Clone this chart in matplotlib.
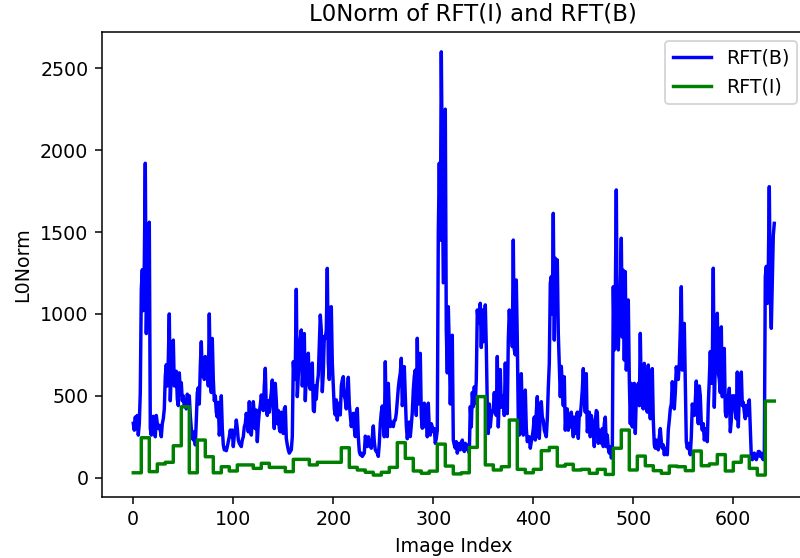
import numpy as np
import matplotlib
matplotlib.use("Agg")
import matplotlib.pyplot as plt

# L0 norm of RFT(B) per image
rft_b = [
    332, 290, 370, 300, 380, 260, 330, 520, 1150, 1270, 1020, 1300, 1920, 880, 1200, 1050,      # 0
    1560, 300, 260, 350, 375, 300, 250, 380, 330, 300, 320, 290, 250, 330, 360, 420,            # 16
    620, 690, 560, 720, 1000, 470, 640, 580, 840, 560, 620, 650, 480, 440, 640, 530,            # 32
    580, 470, 500, 440, 470, 420, 510, 470, 500, 380, 300, 250, 230, 280, 200, 350,             # 48
    520, 550, 450, 680, 830, 620, 680, 600, 740, 650, 700, 560, 1000, 620, 520, 850,            # 64
    600, 470, 500, 400, 370, 460, 260, 330, 500, 300, 200, 170, 180, 165, 190, 220,             # 80
    250, 291, 250, 291, 190, 260, 280, 352, 300, 230, 210, 200, 190, 230, 250, 310,             # 96
    330, 393, 330, 280, 464, 300, 260, 340, 464, 380, 300, 413, 220, 330, 400, 444,             # 112
    505, 460, 410, 560, 668, 420, 380, 470, 400, 470, 520, 596, 420, 300, 576, 470,             # 128
    330, 410, 300, 280, 400, 350, 270, 420, 434, 240, 200, 170, 150, 160, 170, 250,             # 144
    708, 600, 680, 1150, 495, 620, 740, 850, 902, 560, 700, 880, 470, 640, 700, 760,            # 160
    560, 540, 640, 700, 413, 403, 560, 480, 580, 625, 800, 993, 900, 525, 640, 863,             # 176
    850, 900, 1278, 700, 600, 1040, 1044, 700, 556, 420, 383, 475, 352, 455, 420, 383,          # 192
    560, 597, 617, 500, 475, 420, 520, 613, 450, 380, 312, 360, 393, 300, 251, 400,             # 208
    423, 251, 160, 140, 150, 130, 140, 150, 254, 230, 190, 250, 210, 190, 180, 250,             # 224
    316, 220, 170, 160, 150, 130, 210, 330, 400, 438, 330, 250, 708, 300, 251, 576,             # 240
    420, 312, 340, 320, 312, 350, 352, 393, 470, 546, 600, 640, 729, 440, 500, 678,             # 256
    500, 320, 238, 300, 340, 251, 320, 400, 535, 620, 657, 380, 851, 450, 560, 759,             # 272
    373, 302, 434, 455, 310, 434, 250, 455, 300, 260, 330, 310, 281, 300, 210, 240,             # 288
    290, 1500, 1920, 1450, 2600, 1900, 1190, 1700, 2250, 900, 640, 1044, 800, 450, 700, 870,    # 304
    230, 200, 180, 220, 150, 190, 210, 170, 200, 230, 180, 160, 210, 190, 170, 200,             # 320
    150, 434, 310, 520, 434, 555, 453, 600, 1024, 945, 1014, 1065, 795, 1024, 830, 900,         # 336
    1055, 800, 434, 270, 450, 310, 380, 400, 420, 520, 400, 380, 740, 310, 500, 660,            # 352
    430, 480, 500, 380, 700, 420, 391, 840, 1024, 900, 983, 800, 1451, 780, 750, 1207,          # 368
    840, 352, 260, 300, 635, 370, 260, 400, 535, 300, 220, 240, 250, 180, 220, 250,             # 384
    300, 370, 230, 400, 495, 290, 240, 380, 464, 370, 350, 290, 270, 250, 360, 550,             # 400
    698, 1187, 1228, 1000, 1614, 840, 1340, 1187, 1330, 880, 678, 495, 680, 560, 440, 616,      # 416
    290, 400, 420, 290, 340, 310, 400, 330, 250, 370, 270, 350, 400, 240, 400, 380,             # 432
    450, 535, 666, 500, 400, 635, 280, 330, 400, 250, 380, 330, 300, 190, 350, 410,             # 448
    400, 210, 290, 260, 210, 300, 190, 330, 370, 190, 260, 180, 150, 190, 120, 140,             # 464
    1166, 780, 1100, 1757, 858, 780, 1000, 1145, 1462, 858, 1267, 718, 1258, 657, 800, 1085,    # 480
    600, 330, 576, 310, 450, 576, 270, 495, 520, 576, 440, 881, 500, 440, 420, 698,             # 496
    470, 430, 400, 688, 500, 360, 576, 666, 350, 200, 180, 230, 190, 170, 250, 300,             # 512
    220, 180, 200, 140, 180, 150, 140, 290, 350, 420, 450, 586, 480, 420, 520, 677,             # 528
    620, 600, 697, 900, 1166, 657, 800, 942, 600, 220, 180, 210, 170, 140, 250, 450,            # 544
    400, 380, 470, 590, 400, 330, 560, 500, 330, 290, 330, 230, 260, 300, 220, 450,             # 560
    600, 770, 576, 700, 1279, 430, 700, 900, 1004, 640, 600, 520, 921, 494, 576, 789,           # 576
    400, 372, 500, 440, 546, 280, 350, 500, 475, 500, 400, 360, 645, 310, 500, 560,             # 592
    645, 440, 460, 400, 360, 440, 380, 450, 475, 310, 130, 110, 120, 150, 140, 110,             # 608
    130, 160, 160, 130, 150, 120, 110, 140, 1227, 1290, 1064, 1270, 1777, 1100, 912, 1200,      # 624
    1480, 1553,                                                                                 # 640
]

# L0 norm of RFT(I): constant over runs of images
rft_i_levels = [
    30, 244, 37, 84, 94, 195, 433, 30, 230, 128, 30, 67, 41, 78, 78, 57,
    88, 63, 63, 37, 112, 112, 78, 94, 94, 94, 183, 63, 47, 33, 16, 33,
    63, 214, 118, 41, 27, 40, 205, 71, 23, 30, 185, 495, 78, 47, 67, 352,
    51, 30, 51, 165, 185, 71, 82, 47, 51, 27, 51, 20, 180, 291, 47, 132,
    73, 43, 27, 71, 67, 43, 163, 73, 84, 141, 41, 94, 132, 57, 16, 468,
]
rft_i_runs = [8] * 79 + [10]

rft_i = np.repeat(rft_i_levels, rft_i_runs)
idx = np.arange(len(rft_b))

dpi = 137
fig = plt.figure(figsize=(800 / dpi, 558 / dpi), dpi=dpi)
ax = fig.add_axes([101.7 / 800, 61.3 / 558, 705 / 800, 465 / 558])

ax.plot(idx, rft_b, color='b', lw=1.8, label='RFT(B)')
ax.plot(np.arange(len(rft_i)), rft_i, color='g', lw=1.8, drawstyle='steps-post', label='RFT(I)')

ax.set_xlim(-31.6, 673.4)
ax.set_ylim(-116, 2723)
ax.set_title('L0Norm of RFT(I) and RFT(B)', x=0.527)
ax.set_xlabel('Image Index')
ax.set_ylabel('L0Norm')
ax.legend(loc='upper right')

fig.savefig('out.png', dpi=dpi)
